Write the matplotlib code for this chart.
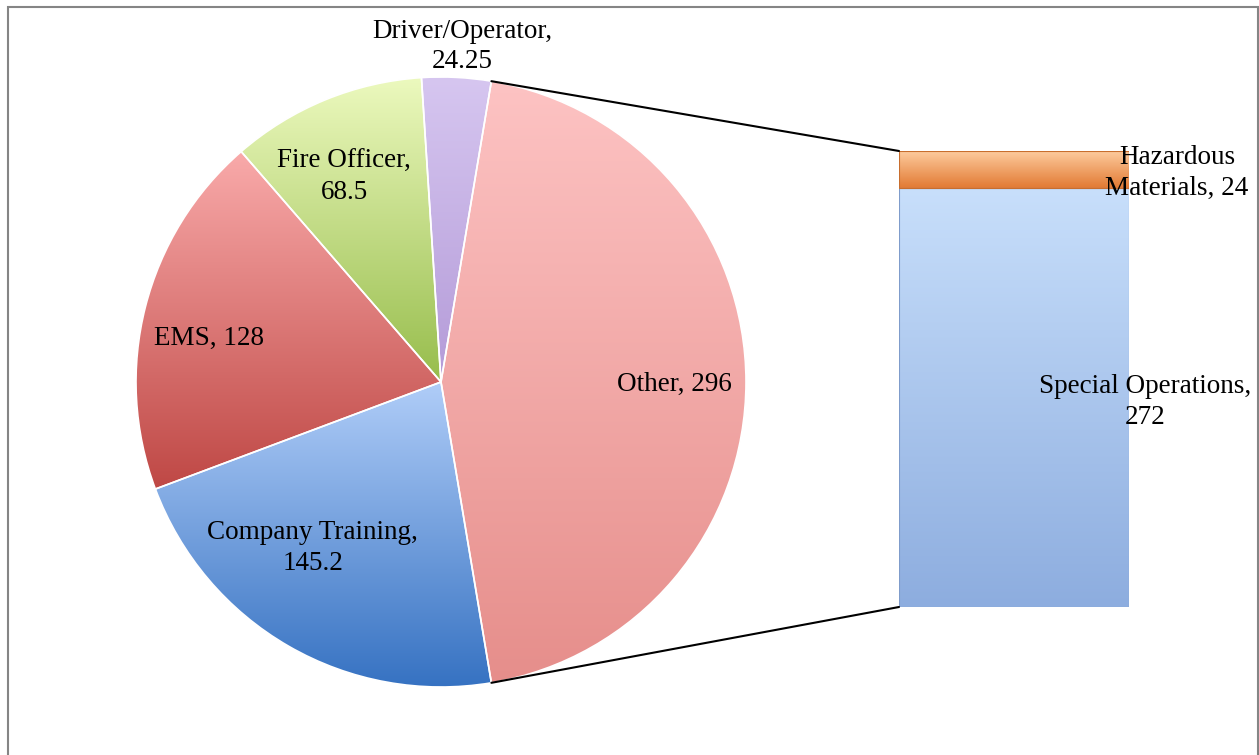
import numpy as np
import matplotlib.pyplot as plt
from matplotlib.colors import LinearSegmentedColormap
from matplotlib.patches import ConnectionPatch, Rectangle

# pie of bar: training hours by category, "Other" split into the bar
pie_labels = ["Other", "Driver/Operator", "Fire Officer", "EMS", "Company Training"]
pie_values = [296, 24.25, 68.5, 128, 145.2]
bar_labels = ["Special Operations", "Hazardous Materials"]
bar_values = [272, 24]

# (top colour, bottom colour) for the vertical gradients
pie_colors = [("#FDC3C3", "#E68E8B"), ("#D6C6F0", "#B49BD8"), ("#ECF9BE", "#97BD4C"),
              ("#F9AAAA", "#BF4845"), ("#B0CDF8", "#3672C2")]
bar_colors = [("#C8DFFB", "#8DADDF"), ("#FDCB9E", "#E27A33")]
bar_edges = ["#7F9CCB", "#C86E2E"]

# label text and where it sits (axes data coords)
pie_text = ["Other, 296", "Driver/Operator,\n24.25", "Fire Officer,\n68.5", "EMS, 128",
            "Company Training,\n145.2"]
pie_text_pos = [(0.764, -0.007), (0.069, 1.100), (-0.318, 0.672), (-0.761, 0.144), (-0.421, -0.544)]
bar_text = ["Special Operations,\n272", "Hazardous\nMaterials, 24"]
bar_text_pos = [(0.57, 133), (0.709, 281.7)]

plt.rcParams["font.family"] = ["Liberation Serif", "DejaVu Serif"]
FS = 19.5
LS = 1.3

W, H = 1259, 755
fig = plt.figure(figsize=(W / 100, H / 100), dpi=100)
fig.patch.set_facecolor("white")

# pie: centre (441,382) px, radius 305 px
ax1 = fig.add_axes([136 / W, (H - 382 - 305) / H, 610 / W, 610 / H])
ax2 = fig.add_axes([899 / W, (H - 607) / H, 230 / W, 456 / H])

grad = np.linspace(0, 1, 256).reshape(-1, 1)

other_angle = 360 * pie_values[0] / sum(pie_values)
start = -other_angle / 2
wedges, _ = ax1.pie(pie_values, startangle=start, counterclock=True, radius=1,
                    wedgeprops={"edgecolor": "white", "linewidth": 1.2})
for w, (top, bot) in zip(wedges, pie_colors):
    w.set_facecolor("none")
    w.set_zorder(2)
    ext = w.get_path().get_extents()
    cmap = LinearSegmentedColormap.from_list("g", [bot, top])
    im = ax1.imshow(grad, extent=[ext.x0, ext.x1, ext.y0, ext.y1], cmap=cmap,
                    aspect="auto", origin="lower", zorder=1)
    im.set_clip_path(w)
for txt, (x, y) in zip(pie_text, pie_text_pos):
    ax1.text(x, y, txt, ha="center", va="center", fontsize=FS, linespacing=LS, zorder=5)
ax1.set_xlim(-1, 1)
ax1.set_ylim(-1, 1)
ax1.axis("off")

# stacked bar
bottoms = np.concatenate([[0], np.cumsum(bar_values)[:-1]])
bars = ax2.bar(0, bar_values, bottom=bottoms, width=1, align="center")
for b, (top, bot), ec in zip(bars, bar_colors, bar_edges):
    b.set_facecolor("none")
    b.set_edgecolor(ec)
    b.set_linewidth(0.8)
    b.set_zorder(2)
    cmap = LinearSegmentedColormap.from_list("g", [bot, top])
    y0 = b.get_y()
    im = ax2.imshow(grad, extent=[b.get_x(), b.get_x() + b.get_width(), y0, y0 + b.get_height()],
                    cmap=cmap, aspect="auto", origin="lower", zorder=1)
    im.set_clip_path(b)
for txt, (x, y) in zip(bar_text, bar_text_pos):
    ax2.text(x, y, txt, ha="center", va="center", fontsize=FS, linespacing=LS,
             zorder=5, clip_on=False)
ax2.set_xlim(-0.5, 0.5)
ax2.set_ylim(0, sum(bar_values))
ax2.axis("off")

# connector lines from the "Other" slice to the bar corners
t_hi = np.deg2rad(start + other_angle)
t_lo = np.deg2rad(start)
for t, yb in [(t_hi, sum(bar_values)), (t_lo, 0)]:
    con = ConnectionPatch(xyA=(np.cos(t), np.sin(t)), coordsA=ax1.transData,
                          xyB=(-0.5, yb), coordsB=ax2.transData, color="black", lw=1.5)
    fig.add_artist(con)

# chart frame (bottom edge runs past the image)
fig.add_artist(Rectangle((8 / W, -0.05), (1258 - 8) / W, 1 - 7 / H + 0.05,
                         transform=fig.transFigure, fill=False, ec="#858585", lw=1.5))

fig.savefig("out.png", dpi=100)
